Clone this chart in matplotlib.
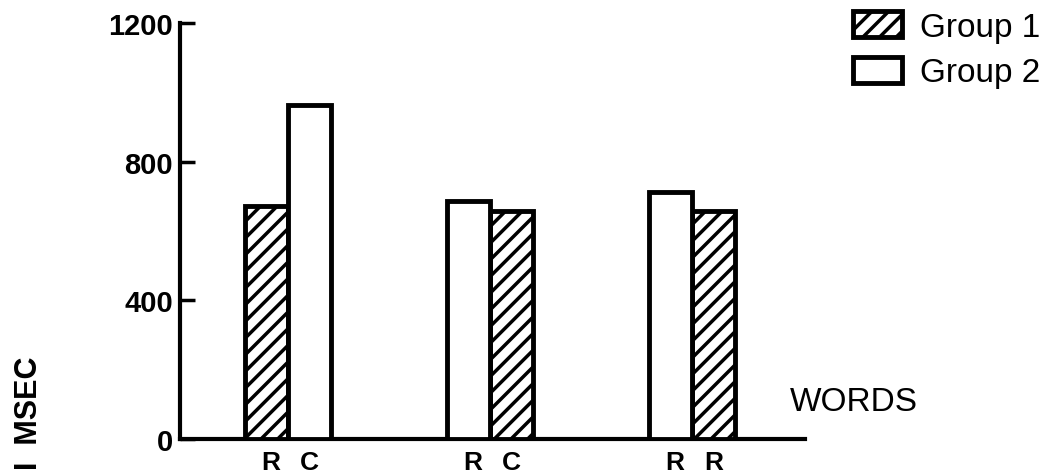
import numpy as np
import matplotlib
matplotlib.use('Agg')
import matplotlib.pyplot as plt
from matplotlib.patches import Patch

plt.rcParams['font.family'] = ['Liberation Sans', 'DejaVu Sans']
plt.rcParams['hatch.linewidth'] = 2.5

# values (msec)
pairs = ['pair 1', 'pair 2', 'pair 3']
group1 = [672, 658, 658]          # hatched bars
group2 = [963, 686, 712]          # open bars
group1_side = [-1, 1, 1]          # hatched bar left (-1) or right (+1) in each pair
left_labels = ['R', 'R', 'R']
right_labels = ['C', 'C', 'R']
yticks = [0, 400, 800, 1200]

fig = plt.figure(figsize=(10.53, 4.77), dpi=100)
ax = fig.add_axes([0.171, 0.0776, 0.5935, 0.872])

x = np.arange(len(pairs))
w = 0.213
side = np.array(group1_side)
ax.bar(x + side * w / 2, group1, w, facecolor='white', edgecolor='black',
       linewidth=3.5, hatch='//', zorder=3)
ax.bar(x - side * w / 2, group2, w, facecolor='white', edgecolor='black',
       linewidth=3.5, zorder=3)

ax.set_xlim(-0.535, 2.559)
ax.set_ylim(0, 1200)

# bar letters under each bar
ax.set_xticks(np.concatenate([x - w / 2 + 0.02, x + w / 2]))
ax.set_xticklabels(left_labels + right_labels, fontsize=19, fontweight='bold')
ax.tick_params(axis='x', length=0, pad=8)

ax.set_yticks(yticks)
ax.set_yticklabels([str(v) for v in yticks], fontsize=21, fontweight='bold')
ax.tick_params(axis='y', direction='in', length=11, width=2.5, pad=5)

for s in ['top', 'right']:
    ax.spines[s].set_visible(False)
for s in ['left', 'bottom']:
    ax.spines[s].set_linewidth(3)

fig.text(0.750, 1 - 403 / 477, 'WORDS', fontsize=24, va='center', ha='left')
fig.text(0.028, 0.015, 'I  MSEC', rotation=90, fontsize=22, fontweight='bold',
         va='bottom', ha='center')

handles = [Patch(facecolor='white', edgecolor='black', linewidth=3.5, hatch='//'),
           Patch(facecolor='white', edgecolor='black', linewidth=3.5)]
fig.legend(handles, ['Group 1', 'Group 2'], loc='upper left',
           bbox_to_anchor=(0.81, 0.975), frameon=False, fontsize=24,
           handlelength=1.47, handleheight=0.84, handletextpad=0.54,
           labelspacing=0.42, borderpad=0, borderaxespad=0)

fig.savefig('out.png', dpi=100)
